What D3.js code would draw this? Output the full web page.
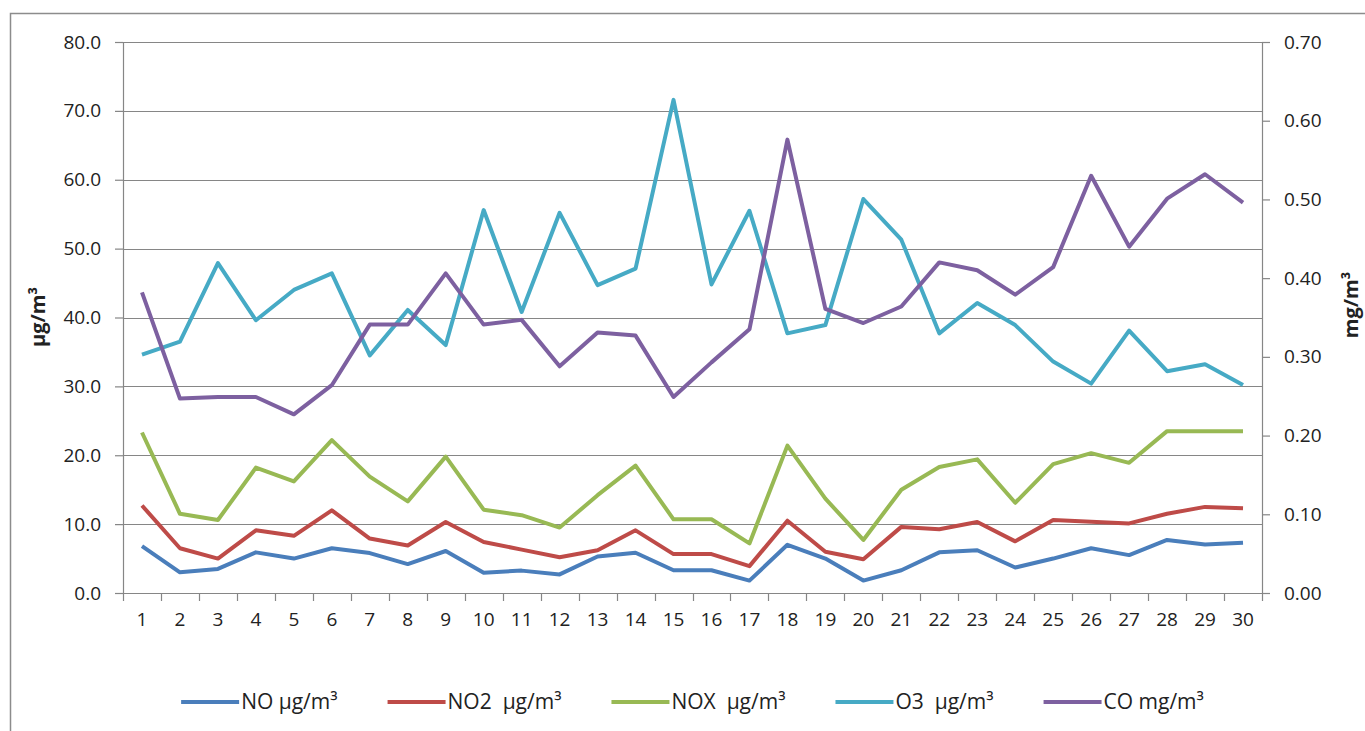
<!DOCTYPE html>
<html>
<head>
<meta charset="utf-8">
<script src="https://cdn.jsdelivr.net/npm/d3@7"></script>
<style>
  body { margin: 0; background: #fff; }
  svg text { font-family: "Open Sans", "DejaVu Sans", sans-serif; fill: #222; }
</style>
</head>
<body>
<div id="chart"></div>
<script>
// days of the month
var days = d3.range(1, 31);

// series values
var noVals  = [6.8, 3.0, 3.5, 5.9, 5.0, 6.5, 5.8, 4.2, 6.1, 2.95, 3.25, 2.7, 5.3, 5.85, 3.3, 3.3, 1.8, 7.0, 5.0, 1.8,
               3.3, 5.9, 6.2, 3.7, 5.0, 6.5, 5.5, 7.7, 7.05, 7.3];
var no2Vals = [12.7, 6.5, 5.0, 9.1, 8.3, 12.0, 7.9, 6.9, 10.3, 7.4, 6.3, 5.2, 6.2, 9.1, 5.65, 5.65, 3.9, 10.5, 6.0, 4.9,
               9.6, 9.25, 10.3, 7.5, 10.6, 10.35, 10.1, 11.5, 12.5, 12.3];
var noxVals = [23.3, 11.5, 10.6, 18.2, 16.2, 22.2, 16.9, 13.3, 19.8, 12.1, 11.3, 9.5, 14.2, 18.5, 10.7, 10.7, 7.2, 21.4, 13.7, 7.7,
               15.0, 18.3, 19.4, 13.1, 18.7, 20.3, 18.9, 23.5, 23.5, 23.5];
var o3Vals  = [34.6, 36.5, 47.9, 39.6, 44.0, 46.4, 34.5, 41.1, 36.0, 55.6, 40.8, 55.2, 44.7, 47.1, 71.6, 44.8, 55.5, 37.7, 38.9, 57.2,
               51.3, 37.7, 42.1, 38.9, 33.6, 30.4, 38.1, 32.2, 33.2, 30.2];
var coVals  = [0.382, 0.247, 0.249, 0.249, 0.227, 0.264, 0.341, 0.341, 0.406, 0.341, 0.347, 0.288, 0.331, 0.327, 0.249, 0.293, 0.335, 0.576, 0.361, 0.343,
               0.364, 0.420, 0.410, 0.379, 0.414, 0.530, 0.440, 0.501, 0.532, 0.496];

var seriesNames = ['NO µg/m³', 'NO2  µg/m³', 'NOX  µg/m³', 'O3  µg/m³', 'CO mg/m³'];
var seriesColors = ['#4a7ebb', '#be4b48', '#98b954', '#46aac5', '#7d60a0'];

var leftTicks = d3.range(0, 81, 10);
var rightTicks = d3.range(0, 0.71, 0.1);

var width = 1365, height = 731;
var plot = { left: 123, right: 1262, top: 42, bottom: 593 };

var svg = d3.select('#chart').append('svg')
  .attr('width', width)
  .attr('height', height);

// outer chart border (runs off the right and bottom edges)
svg.append('rect')
  .attr('x', 10.5).attr('y', 13.5)
  .attr('width', 1400).attr('height', 760)
  .attr('fill', 'none')
  .attr('stroke', '#8c8c8c')
  .attr('stroke-width', 1.5);

var x = d3.scaleBand().domain(days).range([plot.left, plot.right]);
var yL = d3.scaleLinear().domain([0, 80]).range([plot.bottom, plot.top]);
var yR = d3.scaleLinear().domain([0, 0.7]).range([plot.bottom, plot.top]);

// gridlines
svg.append('g')
  .selectAll('line')
  .data(leftTicks.slice(1))
  .enter().append('line')
  .attr('x1', plot.left).attr('x2', plot.right)
  .attr('y1', function (d) { return Math.round(yL(d)) + 0.5; })
  .attr('y2', function (d) { return Math.round(yL(d)) + 0.5; })
  .attr('stroke', '#868686')
  .attr('stroke-width', 1.2);

// left axis
var axL = svg.append('g')
  .attr('transform', 'translate(' + plot.left + ',0)')
  .call(d3.axisLeft(yL).tickValues(leftTicks).tickFormat(d3.format('.1f')).tickSize(8).tickPadding(14));

// right axis
var axR = svg.append('g')
  .attr('transform', 'translate(' + plot.right + ',0)')
  .call(d3.axisRight(yR).tickValues(rightTicks).tickFormat(d3.format('.2f')).tickSize(8).tickPadding(14));

// bottom axis, ticks sit between the days
var axB = svg.append('g')
  .attr('transform', 'translate(0,' + plot.bottom + ')')
  .call(d3.axisBottom(x).tickSize(0).tickPadding(20));

svg.append('g')
  .selectAll('line')
  .data(days.concat([31]))
  .enter().append('line')
  .attr('x1', function (d) { return Math.round(x(d) !== undefined ? x(d) : plot.right) + 0.5; })
  .attr('x2', function (d) { return Math.round(x(d) !== undefined ? x(d) : plot.right) + 0.5; })
  .attr('y1', plot.bottom).attr('y2', plot.bottom + 8)
  .attr('stroke', '#868686').attr('stroke-width', 1.2);

[axL, axR, axB].forEach(function (ax) {
  ax.select('.domain').attr('stroke', '#868686').attr('stroke-width', 1.2);
  ax.selectAll('.tick line').attr('stroke', '#868686').attr('stroke-width', 1.2);
  ax.selectAll('.tick text').style('font-size', '19px').attr('fill', '#222');
});
axB.select('.domain').attr('d', 'M' + plot.left + ',0.5H' + plot.right);

// axis titles
svg.append('text')
  .attr('transform', 'translate(45,317) rotate(-90)')
  .attr('text-anchor', 'middle')
  .style('font-size', '20px').style('font-weight', 'bold')
  .text('µg/m³');
svg.append('text')
  .attr('transform', 'translate(1358,305) rotate(-90)')
  .attr('text-anchor', 'middle')
  .style('font-size', '20px').style('font-weight', 'bold')
  .text('mg/m³');

// lines
var allSeries = [
  { vals: noVals, scale: yL },
  { vals: no2Vals, scale: yL },
  { vals: noxVals, scale: yL },
  { vals: o3Vals, scale: yL },
  { vals: coVals, scale: yR }
];

allSeries.forEach(function (s, i) {
  var line = d3.line()
    .x(function (d, j) { return x(days[j]) + x.bandwidth() / 2; })
    .y(function (d) { return s.scale(d); });
  svg.append('path')
    .datum(s.vals)
    .attr('d', line)
    .attr('fill', 'none')
    .attr('stroke', seriesColors[i])
    .attr('stroke-width', 4)
    .attr('stroke-linejoin', 'round');
});

// legend, centred under the plot
var legend = svg.append('g');
var legendY = 702;
var items = legend.selectAll('g')
  .data(seriesNames)
  .enter().append('g');
items.append('line')
  .attr('x1', 0).attr('x2', 58)
  .attr('y1', legendY).attr('y2', legendY)
  .attr('stroke', function (d, i) { return seriesColors[i]; })
  .attr('stroke-width', 4);
items.append('text')
  .attr('x', 60).attr('y', legendY + 7)
  .attr('xml:space', 'preserve')
  .style('white-space', 'pre')
  .style('font-size', '21px')
  .text(function (d) { return d; });

var offs = [], cur = 0;
items.each(function () {
  var w = d3.select(this).select('text').node().getComputedTextLength();
  offs.push(cur);
  cur += 60 + w + 50;
});
var total = cur - 50;
var start = (plot.left + plot.right) / 2 - total / 2;
items.attr('transform', function (d, i) { return 'translate(' + (start + offs[i]) + ',0)'; });
</script>
</body>
</html>
